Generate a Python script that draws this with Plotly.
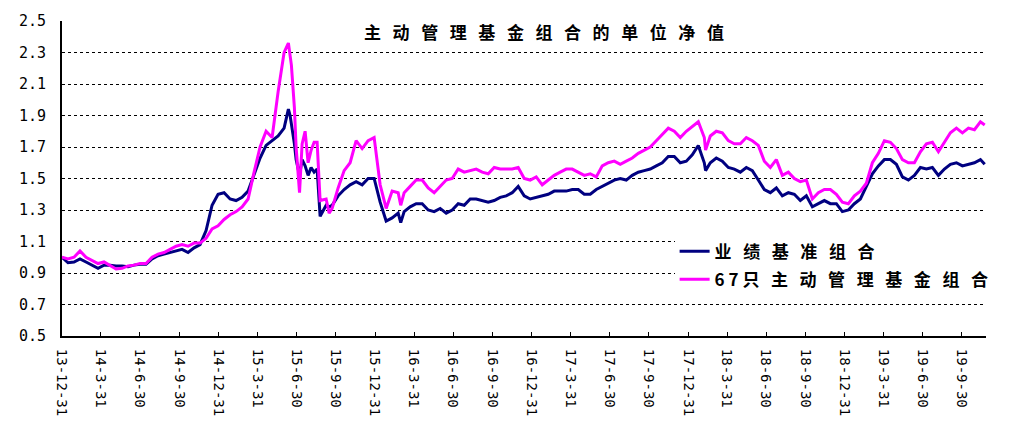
import pandas as pd
import plotly.graph_objects as go

# ---- data ----
start_date = "2013-12-31"   # regular 14-day sampling grid starts here

bench = [1.00, 0.965, 0.97, 0.99, 0.97, 0.95, 0.93, 0.95, 0.95, 0.945,
         0.945, 0.94, 0.95, 0.955, 0.955, 0.99, 1.01, 1.02, 1.03, 1.04,
         1.05, 1.03, 1.06, 1.08, 1.17, 1.33, 1.40, 1.41, 1.37, 1.36,
         1.38, 1.42, 1.53, 1.63, 1.71, 1.74, 1.77, 1.82, 1.90, 1.62,
         1.62, 1.52, 1.54, 1.26, 1.33, 1.33, 1.39, 1.43, 1.46, 1.48,
         1.46, 1.50, 1.50, 1.35, 1.23, 1.25, 1.28, 1.29, 1.32, 1.34,
         1.34, 1.30, 1.29, 1.31, 1.28, 1.30, 1.34, 1.33, 1.37, 1.37,
         1.36, 1.35, 1.36, 1.38, 1.39, 1.41, 1.45, 1.39, 1.37, 1.38,
         1.39, 1.40, 1.42, 1.42, 1.42, 1.43, 1.43, 1.40, 1.40, 1.43,
         1.45, 1.47, 1.49, 1.50, 1.49, 1.52, 1.54, 1.55, 1.56, 1.58,
         1.60, 1.64, 1.64, 1.60, 1.61, 1.65, 1.71, 1.60, 1.60, 1.63,
         1.61, 1.57, 1.56, 1.54, 1.57, 1.55, 1.49, 1.43, 1.41, 1.44,
         1.39, 1.41, 1.40, 1.36, 1.39, 1.32, 1.34, 1.36, 1.34, 1.34,
         1.29, 1.30, 1.34, 1.37, 1.45, 1.53, 1.58, 1.62, 1.62, 1.59,
         1.51, 1.49, 1.52, 1.57, 1.56, 1.57, 1.52, 1.56, 1.59, 1.60,
         1.58, 1.59, 1.60, 1.62]

fund = [1.00, 0.99, 1.00, 1.04, 1.00, 0.98, 0.96, 0.97, 0.95, 0.925,
        0.93, 0.945, 0.95, 0.96, 0.96, 1.00, 1.02, 1.03, 1.05, 1.07,
        1.08, 1.07, 1.09, 1.09, 1.12, 1.18, 1.20, 1.24, 1.27, 1.29,
        1.32, 1.37, 1.54, 1.70, 1.80, 1.76, 2.05, 2.30, 2.28, 1.70,
        1.72, 1.60, 1.73, 1.36, 1.37, 1.31, 1.44, 1.55, 1.60, 1.74,
        1.69, 1.74, 1.76, 1.46, 1.31, 1.42, 1.41, 1.41, 1.45, 1.49,
        1.49, 1.44, 1.41, 1.45, 1.49, 1.50, 1.56, 1.54, 1.55, 1.56,
        1.54, 1.53, 1.57, 1.56, 1.56, 1.56, 1.57, 1.50, 1.49, 1.51,
        1.46, 1.49, 1.52, 1.54, 1.56, 1.56, 1.54, 1.52, 1.53, 1.51,
        1.58, 1.60, 1.61, 1.59, 1.61, 1.63, 1.66, 1.68, 1.70, 1.74,
        1.78, 1.82, 1.80, 1.76, 1.80, 1.83, 1.86, 1.76, 1.77, 1.80,
        1.79, 1.74, 1.72, 1.72, 1.76, 1.74, 1.71, 1.61, 1.57, 1.62,
        1.52, 1.54, 1.50, 1.48, 1.49, 1.37, 1.41, 1.43, 1.43, 1.40,
        1.35, 1.34, 1.39, 1.42, 1.47, 1.60, 1.66, 1.74, 1.73, 1.69,
        1.62, 1.60, 1.60, 1.67, 1.72, 1.73, 1.67, 1.73, 1.79, 1.82,
        1.79, 1.82, 1.81, 1.86]

# extra points at sharp turning points
extra_dates = ["2015-06-12", "2015-06-19", "2015-06-26", "2015-07-08", "2015-07-21",
               "2015-08-04", "2015-08-18", "2015-09-15", "2016-02-29", "2018-02-09",
               "2019-11-22"]
extra_bench = [1.94, 1.85, 1.72, 1.52, 1.58, 1.57, 1.56, 1.32, 1.22, 1.55, 1.59]
extra_fund = [2.36, 2.22, 1.95, 1.41, 1.80, 1.68, 1.73, 1.28, 1.33, 1.68, 1.84]

tick_dates = ["2013-12-31", "2014-03-31", "2014-06-30", "2014-09-30", "2014-12-31",
              "2015-03-31", "2015-06-30", "2015-09-30", "2015-12-31", "2016-03-31",
              "2016-06-30", "2016-09-30", "2016-12-31", "2017-03-31", "2017-06-30",
              "2017-09-30", "2017-12-31", "2018-03-31", "2018-06-30", "2018-09-30",
              "2018-12-31", "2019-03-31", "2019-06-30", "2019-09-30"]
tick_labels = ["13-12-31", "14-3-31", "14-6-30", "14-9-30", "14-12-31",
               "15-3-31", "15-6-30", "15-9-30", "15-12-31", "16-3-31",
               "16-6-30", "16-9-30", "16-12-31", "17-3-31", "17-6-30",
               "17-9-30", "17-12-31", "18-3-31", "18-6-30", "18-9-30",
               "18-12-31", "19-3-31", "19-6-30", "19-9-30"]

y_ticks = [0.5, 0.7, 0.9, 1.1, 1.3, 1.5, 1.7, 1.9, 2.1, 2.3, 2.5]

title_text = "主动管理基金组合的单位净值"
name_bench = "业绩基准组合"
name_fund_prefix = "6\u00a07"
name_fund_rest = "只主动管理基金组合"

# ---- build the table ----
grid_dates = pd.date_range(start_date, periods=len(bench), freq="14D")
df = pd.DataFrame({"date": list(grid_dates) + list(pd.to_datetime(extra_dates)),
                   "bench": bench + extra_bench,
                   "fund": fund + extra_fund}).sort_values("date")

GAP = "\u00a0\u00a0\u00a0"
def spaced(s):
    return GAP.join(list(s))

CJK = "Noto Sans CJK SC"
MONO = "DejaVu Sans Mono"

fig = go.Figure()
fig.add_trace(go.Scatter(x=df["date"], y=df["bench"], mode="lines",
                         name=spaced(name_bench), legendgroup="a",
                         line=dict(color="#000080", width=3)))
fig.add_trace(go.Scatter(x=df["date"], y=df["fund"], mode="lines",
                         name=name_fund_prefix + "\u00a0" + spaced(name_fund_rest),
                         legendgroup="b",
                         line=dict(color="#FF00FF", width=3)))

fig.update_layout(
    width=1012, height=433,
    margin=dict(l=62, r=26, t=21, b=97),
    paper_bgcolor="white", plot_bgcolor="white",
    showlegend=True,
    legend=dict(x=0.663, y=0.325, xanchor="left", yanchor="top",
                bgcolor="white", borderwidth=0,
                font=dict(family=CJK, size=17, color="black", weight="bold"),
                traceorder="grouped", tracegroupgap=3,
                itemwidth=30),
    annotations=[dict(text=spaced(title_text), x=0.5216, y=0.967,
                      xref="paper", yref="paper", showarrow=False,
                      xanchor="center", yanchor="middle",
                      font=dict(family=CJK, size=17, color="black", weight="bold"))],
)

fig.update_xaxes(
    type="date",
    range=["2013-12-31", "2019-11-25"],
    tickmode="array", tickvals=tick_dates, ticktext=tick_labels,
    tickangle=90,
    ticks="inside", ticklen=4, tickwidth=1, tickcolor="black",
    showline=True, linecolor="black", linewidth=2,
    showgrid=False, zeroline=False,
    tickfont=dict(family=MONO, size=14, color="black"),
    ticklabelstandoff=8,
)
fig.update_yaxes(
    range=[0.5, 2.5],
    tickmode="array", tickvals=y_ticks,
    ticktext=[f"{v:.1f}" for v in y_ticks],
    ticks="",
    showline=True, linecolor="black", linewidth=2,
    showgrid=True, gridcolor="black", gridwidth=1, griddash="3px,3px",
    zeroline=False,
    tickfont=dict(family=MONO, size=15, color="black"),
    ticklabelstandoff=11,
)

fig.write_html("out.html")
